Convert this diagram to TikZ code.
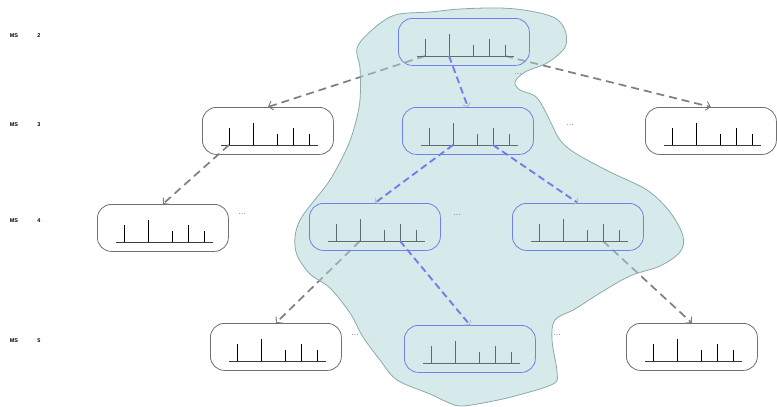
\documentclass[tikz,border=0pt]{standalone}
\usepackage{fontspec}
\setmainfont{Liberation Sans}
\usetikzlibrary{arrows.meta}

\definecolor{blobfill}{HTML}{AFD5D7}
\definecolor{blobline}{HTML}{8AA9A9}
\definecolor{bluebox}{HTML}{6E82EE}
\definecolor{blueedge}{HTML}{6F80EC}
\definecolor{edgegray}{HTML}{7F7F7F}
\definecolor{boxgray}{HTML}{707070}
\definecolor{specgray}{HTML}{5E6C6C}
\definecolor{basegray}{HTML}{3A3A3A}
\definecolor{dotgray}{HTML}{8A8A8A}

\tikzset{
  boxshape/.style={draw=#1, rounded corners=14pt, minimum width=131pt,
    minimum height=47pt, anchor=north west, inner sep=0pt, line width=0.8pt},
  grayedge/.style={draw=edgegray, line width=1.7pt, dash pattern=on 8pt off 5pt,
    -{Straight Barb[length=4pt,width=9pt,line width=1pt]}},
  blueedge/.style={draw=blueedge, line width=1.9pt, dash pattern=on 7pt off 4pt,
    -{Straight Barb[length=3pt,width=8pt,line width=0.8pt,color=gray!60]}},
  mslabel/.style={font=\bfseries\fontsize{5.5}{6}\selectfont, inner sep=0pt},
  more/.style={font=\fontsize{9}{9}\selectfont, text=dotgray, inner sep=0pt},
}

% one spectrum box: name, left, top, frame colour, stick colour, baseline colour
\newcommand\specbox[6]{%
  \begin{scope}[shift={(#2,#3)}]
    \node[boxshape=#4] (#1) at (0,0) {};
    \draw[line width=0.9pt, #6] (19,38) -- (116,38);
    \draw[line width=0.9pt, #5]
      (27,38) -- (27,21) (51,38) -- (51,16) (75,38) -- (75,27)
      (91,38) -- (91,21) (107,38) -- (107,27);
    \coordinate (#1-a) at (27,38);
    \coordinate (#1-b) at (51,38);
    \coordinate (#1-c) at (75,38);
    \coordinate (#1-d) at (91,38);
    \coordinate (#1-e) at (107,38);
  \end{scope}}

\begin{document}
\begin{tikzpicture}[x=1pt,y=-1pt]
  \useasboundingbox (0,0) rectangle (777,407);

  % level labels
  \node[mslabel] (ms2) at (14,36) {MS};  \node[mslabel] (n2) at (39,36) {2};
  \node[mslabel] (ms3) at (14,125) {MS}; \node[mslabel] (n3) at (39,125) {3};
  \node[mslabel] (ms4) at (14,221) {MS}; \node[mslabel] (n4) at (39,221) {4};
  \node[mslabel] (ms5) at (14,341) {MS}; \node[mslabel] (n5) at (39,341) {5};

  % spectra outside the highlighted path
  \specbox{left3}{202}{107}{boxgray}{black}{basegray}
  \specbox{right3}{645}{107}{boxgray}{black}{basegray}
  \specbox{left4}{97}{204}{boxgray}{black}{basegray}
  \specbox{left5}{210}{323}{boxgray}{black}{basegray}
  \specbox{right5}{626}{323}{boxgray}{black}{basegray}

  % coordinates of the highlighted spectra (needed by the grey edges)
  \begin{scope}[opacity=0]
    \specbox{top}{398}{18}{bluebox}{specgray}{specgray}
    \specbox{mid3}{402}{107}{bluebox}{specgray}{specgray}
    \specbox{blue4a}{309}{203}{bluebox}{specgray}{specgray}
    \specbox{blue4b}{512}{203}{bluebox}{specgray}{specgray}
    \specbox{mid5}{404}{325}{bluebox}{specgray}{specgray}
  \end{scope}

  % fragmentation edges not taken
  \draw[grayedge] (top-a) -- (left3.north);
  \draw[grayedge] (top-e) -- (right3.north);
  \draw[grayedge] (left3-a) -- (left4.north);
  \draw[grayedge] (blue4a-b) -- (left5.north);
  \draw[grayedge] (blue4b-d) -- (right5.north);

  % highlighted region
  \path[fill=blobfill, fill opacity=0.5, draw=blobline, line width=0.8pt]
    plot[smooth cycle, tension=0.55] coordinates {
      (357,48) (372,30) (395,15) (430,12) (460,9) (500,8) (530,11) (555,18)
      (565,30) (566,45) (558,55) (545,64) (525,72) (515,82) (520,90) (535,96)
      (543,107) (552,125) (560,140) (575,153) (610,172) (647,190) (670,212)
      (683,236) (680,252) (660,266) (630,276) (600,293) (575,309) (555,320)
      (552,340) (557,372) (553,384) (515,396) (483,403) (460,406) (447,402)
      (430,394) (397,380) (380,360) (363,337) (350,313) (330,288) (310,274)
      (297,255) (295,237) (300,220) (313,202) (330,180) (347,148) (355,125)
      (360,100) (360,68)};

  % highlighted spectra
  \specbox{top}{398}{18}{bluebox}{specgray}{specgray}
  \specbox{mid3}{402}{107}{bluebox}{specgray}{specgray}
  \specbox{blue4a}{309}{203}{bluebox}{specgray}{specgray}
  \specbox{blue4b}{512}{203}{bluebox}{specgray}{specgray}
  \specbox{mid5}{404}{325}{bluebox}{specgray}{specgray}

  % highlighted path
  \draw[blueedge] (top-b) -- (mid3.north);
  \draw[blueedge] (mid3-b) -- (blue4a.north);
  \draw[blueedge] (mid3-d) -- (blue4b.north);
  \draw[blueedge] (blue4a-d) -- (mid5.north);

  % further branches
  \node[more] (m1) at (518,74) {...};
  \node[more] (m2) at (570,125) {...};
  \node[more] (m3) at (242,214) {...};
  \node[more] (m4) at (457,215) {...};
  \node[more] (m5) at (355,335) {...};
  \node[more] (m6) at (557,335) {...};
\end{tikzpicture}
\end{document}
